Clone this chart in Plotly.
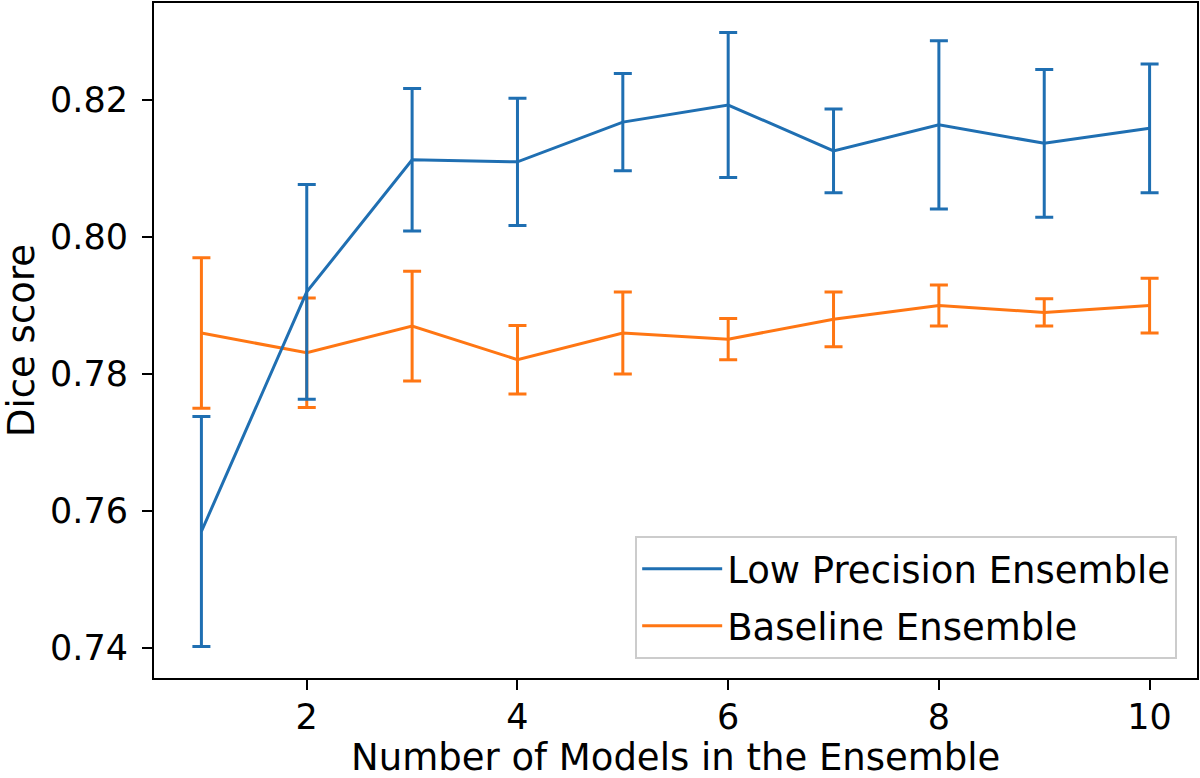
import plotly.graph_objects as go

n_models = [1, 2, 3, 4, 5, 6, 7, 8, 9, 10]

low_prec_mean = [0.757, 0.792, 0.8113, 0.811, 0.8168, 0.8193, 0.8126, 0.8164, 0.8137, 0.8159]
low_prec_err = [0.0168, 0.0157, 0.0104, 0.0093, 0.0071, 0.0106, 0.0061, 0.0123, 0.0108, 0.0094]

baseline_mean = [0.786, 0.7831, 0.787, 0.7821, 0.786, 0.7851, 0.788, 0.790, 0.789, 0.790]
baseline_err = [0.011, 0.008, 0.008, 0.005, 0.006, 0.003, 0.004, 0.003, 0.002, 0.004]

blue = "#1f6fb2"
orange = "#ff7613"
tick_font = dict(family="DejaVu Sans", size=35, color="black")
label_font = dict(family="DejaVu Sans", size=37, color="black")

fig = go.Figure()
# baseline first so the blue line is drawn on top where they cross
fig.add_trace(go.Scatter(
    x=n_models, y=baseline_mean, mode="lines", name="Baseline Ensemble",
    legendgroup="base", legendrank=2,
    line=dict(color=orange, width=3),
    error_y=dict(type="data", array=baseline_err, color=orange, thickness=3, width=9),
))
fig.add_trace(go.Scatter(
    x=n_models, y=low_prec_mean, mode="lines", name="Low Precision Ensemble",
    legendgroup="lowp", legendrank=1,
    line=dict(color=blue, width=3),
    error_y=dict(type="data", array=low_prec_err, color=blue, thickness=3, width=9),
))

axis_style = dict(
    showline=True, mirror=True, linecolor="black", linewidth=2,
    ticks="outside", ticklen=10, tickwidth=2, tickcolor="black",
    showgrid=False, zeroline=False, tickfont=tick_font, automargin=False,
)

fig.update_layout(
    width=1200, height=778,
    margin=dict(l=154, r=3, t=3, b=100),
    plot_bgcolor="white", paper_bgcolor="white",
    font=tick_font,
    xaxis=dict(axis_style, range=[0.55, 10.45], tickvals=[2, 4, 6, 8, 10],
               ticklabelstandoff=-3),
    yaxis=dict(axis_style, range=[0.7356, 0.8342], tickvals=[0.74, 0.76, 0.78, 0.80, 0.82],
               tickformat=".2f", ticklabelstandoff=7,
               title=dict(text="Dice score", font=label_font, standoff=12)),
    legend=dict(x=0.981, y=0.028, xanchor="right", yanchor="bottom",
                traceorder="grouped", tracegroupgap=6, itemwidth=80,
                bgcolor="white", bordercolor="#cccccc", borderwidth=2, font=label_font),
)

# x axis title as an annotation so the plot area keeps its fixed margins
fig.add_annotation(text="Number of Models in the Ensemble", xref="paper", yref="paper",
                   x=0.5, y=0, xanchor="center", yanchor="top", yshift=-56,
                   showarrow=False, font=label_font)

# the page body has a default 8px margin; remove it so the figure sits at the corner
fig.write_html("out.html", config={"displayModeBar": False},
               post_script="document.body.style.margin='0';")
